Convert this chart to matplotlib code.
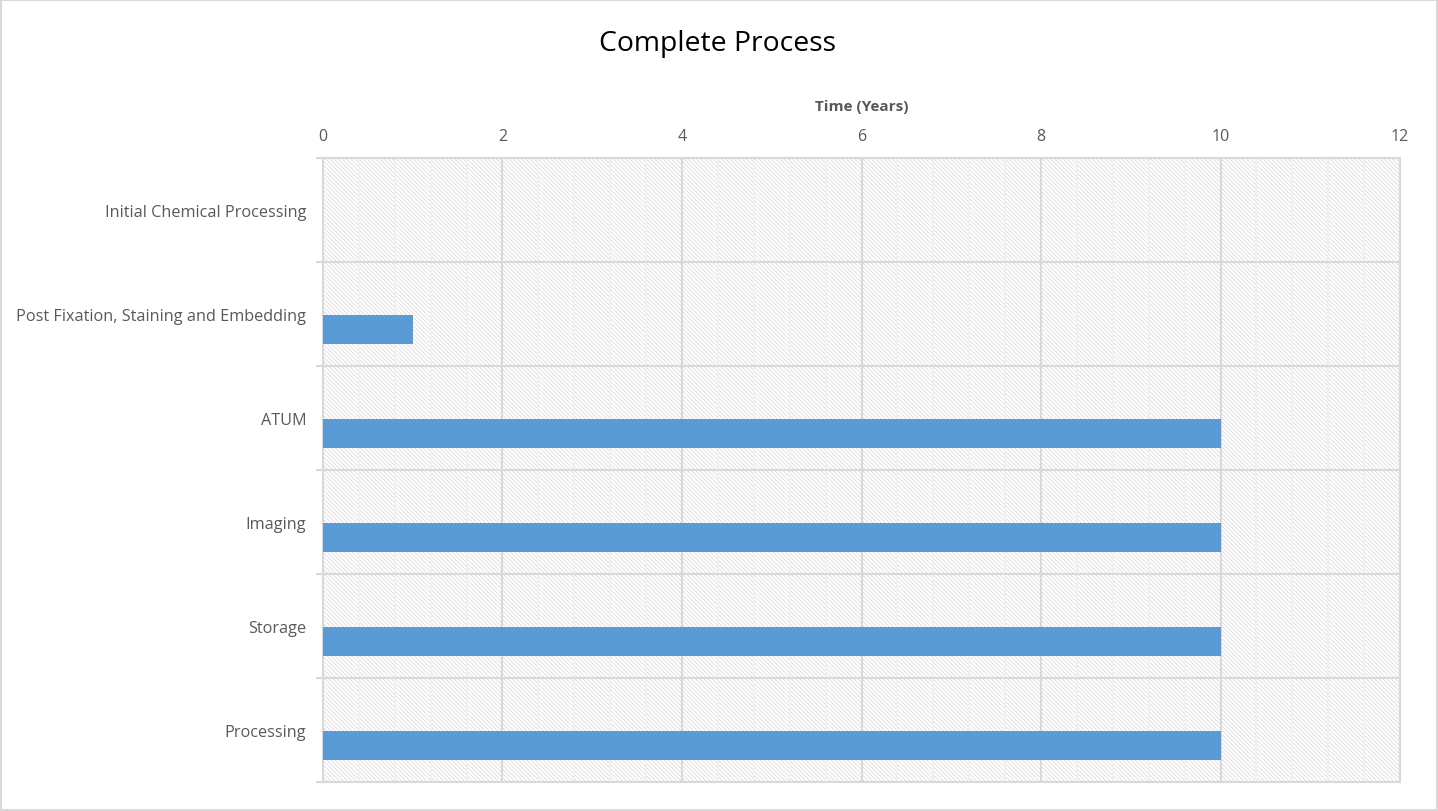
import matplotlib
matplotlib.use("Agg")
import matplotlib.pyplot as plt
from matplotlib.patches import Rectangle
import numpy as np

categories = ["Initial Chemical Processing", "Post Fixation, Staining and Embedding",
              "ATUM", "Imaging", "Storage", "Processing"]
values = [0, 1, 10, 10, 10, 10]
x_ticks = [0, 2, 4, 6, 8, 10, 12]

plt.rcParams['font.family'] = ['Open Sans', 'DejaVu Sans']
plt.rcParams['hatch.linewidth'] = 0.5

fig = plt.figure(figsize=(14.38, 8.12), dpi=100)
fig.patch.set_facecolor('white')
fig.patches.append(Rectangle((0.0008, 0.0012), 0.9984, 0.9976, transform=fig.transFigure,
                             fill=False, edgecolor='#d9d9d9', linewidth=1.5))

ax = fig.add_axes([0.2246, 0.0357, 0.9736 - 0.2246, 0.8042 - 0.0357])
ax.set_facecolor('white')
ax.add_patch(Rectangle((0, 0), 1, 1, transform=ax.transAxes, facecolor='white',
                       edgecolor='#d6d6d6', linewidth=0, hatch='\\' * 8, zorder=0.5))

y = np.arange(len(categories))
ax.barh(y + 0.145, values, height=0.28, color='#5b9bd5', zorder=3)

ax.set_xlim(0, 12)
ax.set_ylim(len(categories) - 0.5, -0.5)

ax.xaxis.tick_top()
ax.xaxis.set_label_position('top')
ax.set_xticks(x_ticks)
ax.set_xticks(np.arange(0, 12.01, 0.4), minor=True)
ax.tick_params(axis='x', which='both', length=0, pad=10, labelsize=11.5, labelcolor='#595959')
ax.grid(axis='x', which='major', color='#d9d9d9', linewidth=1.5, zorder=1)
ax.grid(axis='x', which='minor', color='#f0f0f0', linewidth=1.5, zorder=1)

ax.set_yticks(y)
ax.set_yticklabels(categories)
ax.set_yticks(np.arange(-0.5, len(categories), 1.0), minor=True)
ax.tick_params(axis='y', which='major', length=0, pad=12, labelsize=11.7, labelcolor='#595959')
ax.tick_params(axis='y', which='minor', length=5, width=1.5, color='#d9d9d9')
ax.grid(axis='y', which='minor', color='#d9d9d9', linewidth=1.5, zorder=1)
ax.grid(axis='y', which='major', visible=False)

for s in ax.spines.values():
    s.set_color('#d9d9d9')
    s.set_linewidth(1.5)

ax.set_xlabel('Time (Years)', fontsize=11, fontweight='bold', color='#595959', labelpad=13)
fig.text(0.4993, 0.946, 'Complete Process', ha='center', va='center', fontsize=20.4, color='black')

fig.savefig('out.png', dpi=100)
